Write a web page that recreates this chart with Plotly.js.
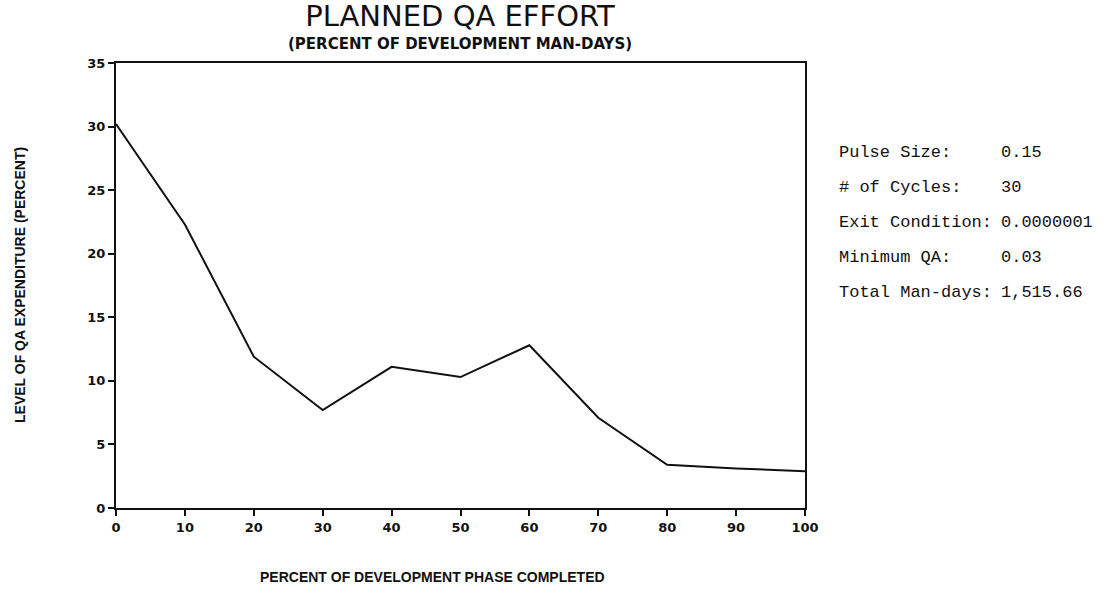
<!DOCTYPE html>
<html>
<head>
<meta charset="utf-8">
<script src="https://cdn.plot.ly/plotly-3.0.1.min.js"></script>
<style>html,body{margin:0;padding:0;background:#fff;}#chart{width:1119px;height:603px;}</style>
</head>
<body>
<div id="chart"></div>
<script>
const phaseCompleted = [0, 10, 20, 30, 40, 50, 60, 70, 80, 90, 100];
const qaLevel = [30.2, 22.3, 11.9, 7.7, 11.1, 10.3, 12.8, 7.1, 3.4, 3.1, 2.9];
const xTicks = [0, 10, 20, 30, 40, 50, 60, 70, 80, 90, 100];
const yTicks = [0, 5, 10, 15, 20, 25, 30, 35];
const paramLabels = ["Pulse Size:", "# of Cycles:", "Exit Condition:", "Minimum QA:", "Total Man-days:"];
const paramValues = ["0.15", "30", "0.0000001", "0.03", "1,515.66"];

const W = 1119, H = 603;
const L = 116, R = 805, T = 63, B = 508;
const px = v => (v - L) / (R - L);
const py = v => (B - v) / (B - T);

const labelFont = {family: "Liberation Mono, DejaVu Sans Mono, monospace", size: 17, color: "#111"};
const annotations = [];
const rowY = [152, 187, 222, 257, 292];
paramLabels.forEach((t, i) => {
  annotations.push({text: t, xref: "paper", yref: "paper", x: px(837), y: py(rowY[i]),
    xanchor: "left", yanchor: "middle", showarrow: false, font: labelFont});
  annotations.push({text: paramValues[i], xref: "paper", yref: "paper", x: px(999), y: py(rowY[i]),
    xanchor: "left", yanchor: "middle", showarrow: false, font: labelFont});
});
annotations.push({text: "<b>(PERCENT OF DEVELOPMENT MAN-DAYS)</b>", xref: "paper", yref: "paper",
  x: px(460), y: py(44), xanchor: "center", yanchor: "middle", showarrow: false,
  font: {family: "DejaVu Sans, sans-serif", size: 15, color: "#111"}});
annotations.push({text: "<b>PERCENT OF DEVELOPMENT PHASE COMPLETED</b>", xref: "paper", yref: "paper",
  x: px(432), y: py(577), xanchor: "center", yanchor: "middle", showarrow: false,
  font: {family: "Liberation Sans, Arial, sans-serif", size: 14, color: "#111"}});
annotations.push({text: "<b>LEVEL OF QA EXPENDITURE (PERCENT)</b>", xref: "paper", yref: "paper",
  x: px(20), y: py(285), xanchor: "center", yanchor: "middle", showarrow: false, textangle: -90,
  font: {family: "Liberation Sans, Arial, sans-serif", size: 14, color: "#111"}});

const trace = {
  x: phaseCompleted, y: qaLevel, type: "scatter", mode: "lines",
  line: {color: "#111", width: 2}, hoverinfo: "skip"
};

const tickFont = {family: "DejaVu Sans, sans-serif", size: 13, color: "#111", weight: "bold"};
const layout = {
  width: W, height: H,
  margin: {l: L, r: W - R, t: T, b: H - B, pad: 0},
  paper_bgcolor: "#fff", plot_bgcolor: "#fff",
  showlegend: false,
  title: {text: "PLANNED QA EFFORT", x: 460 / W, xanchor: "center", xref: "container",
    y: 1 - 16 / H, yref: "container", yanchor: "middle",
    font: {family: "DejaVu Sans ExtraLight, DejaVu Sans, sans-serif", size: 29, color: "#111"}},
  xaxis: {
    range: [0, 100], tickvals: xTicks, ticktext: xTicks.map(String),
    ticks: "outside", ticklen: 6, tickwidth: 2, tickcolor: "#111",
    showline: true, linecolor: "#111", linewidth: 2, mirror: true,
    showgrid: false, zeroline: false, tickfont: tickFont
  },
  yaxis: {
    range: [0, 35], tickvals: yTicks, ticktext: yTicks.map(String),
    ticks: "outside", ticklen: 6, tickwidth: 2, tickcolor: "#111",
    showline: true, linecolor: "#111", linewidth: 2, mirror: true,
    showgrid: false, zeroline: false, tickfont: tickFont
  },
  annotations: annotations
};

Plotly.newPlot("chart", [trace], layout, {displayModeBar: false, staticPlot: true});
</script>
</body>
</html>
